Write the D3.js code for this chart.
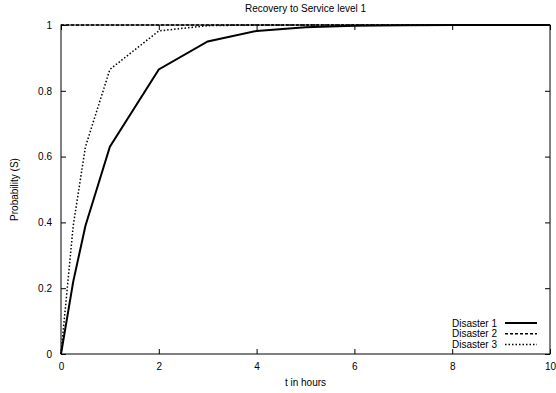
<!DOCTYPE html>
<html>
<head>
<meta charset="utf-8">
<script src="https://cdn.jsdelivr.net/npm/d3@7"></script>
<style>
  body { margin: 0; background: #fff; }
  text { font-family: "Liberation Sans", Arial, sans-serif; fill: #000; }
</style>
</head>
<body>
<div id="chart"></div>
<script>
// data
const hours = [0, 0.25, 0.5, 1, 2, 3, 4, 5, 6, 7, 8, 9, 10];
const disaster1 = [0, 0.22, 0.39, 0.63, 0.865, 0.95, 0.982, 0.993, 0.998, 0.999, 1, 1, 1];
const disaster2 = [1, 1, 1, 1, 1, 1, 1, 1, 1, 1, 1, 1, 1];
const disaster3 = [0, 0.39, 0.63, 0.865, 0.982, 0.998, 1, 1, 1, 1, 1, 1, 1];
const seriesNames = ["Disaster 1", "Disaster 2", "Disaster 3"];
const xTicks = [0, 2, 4, 6, 8, 10];
const yTicks = [0, 0.2, 0.4, 0.6, 0.8, 1];

const svgWidth = 556, svgHeight = 393;
const margin = { top: 25, right: 6, bottom: 39, left: 61 };
const width = svgWidth - margin.left - margin.right;
const height = svgHeight - margin.top - margin.bottom;

const svg = d3.select("#chart").append("svg")
  .attr("width", svgWidth)
  .attr("height", svgHeight);

const xScale = d3.scaleLinear().domain([0, 10]).range([0, width]);
const yScale = d3.scaleLinear().domain([0, 1]).range([height, 0]);

const g = svg.append("g")
  .attr("transform", "translate(" + margin.left + "," + margin.top + ")");

// axes, gnuplot style: ticks inward, mirrored
const fmt = d3.format("~g");
const styleAxis = sel => {
  sel.select(".domain").remove();
  sel.selectAll("line").attr("stroke", "#000");
  sel.selectAll("text").style("font-size", "10px").attr("fill", "#000");
};
g.append("g")
  .attr("transform", "translate(0," + height + ")")
  .call(d3.axisBottom(xScale).tickValues(xTicks).tickFormat(fmt).tickSizeInner(-5).tickSizeOuter(0).tickPadding(9))
  .call(styleAxis);
g.append("g")
  .call(d3.axisTop(xScale).tickValues(xTicks).tickSizeInner(-5).tickSizeOuter(0).tickFormat(""))
  .call(styleAxis);
g.append("g")
  .call(d3.axisLeft(yScale).tickValues(yTicks).tickFormat(fmt).tickSizeInner(-5).tickSizeOuter(0).tickPadding(9))
  .call(styleAxis);
g.append("g")
  .attr("transform", "translate(" + width + ",0)")
  .call(d3.axisRight(yScale).tickValues(yTicks).tickSizeInner(-5).tickSizeOuter(0).tickFormat(""))
  .call(styleAxis);

// frame
g.append("rect")
  .attr("width", width).attr("height", height)
  .attr("fill", "none").attr("stroke", "#000").attr("stroke-width", 1);

const line = d3.line()
  .x((d, i) => xScale(hours[i]))
  .y(d => yScale(d));

const styles = [
  { w: 2, dash: null },
  { w: 1.5, dash: "3,2" },
  { w: 1.5, dash: "1.5,2" }
];
[disaster1, disaster2, disaster3].forEach((s, k) => {
  g.append("path")
    .datum(s)
    .attr("fill", "none")
    .attr("stroke", "#000")
    .attr("stroke-width", styles[k].w)
    .attr("stroke-dasharray", styles[k].dash)
    .attr("d", line);
});

// legend
const legend = g.append("g").attr("transform", "translate(" + (width - 53) + "," + (height - 31) + ")");
seriesNames.forEach((name, k) => {
  const row = legend.append("g").attr("transform", "translate(0," + (k * 10.7) + ")");
  row.append("text").attr("x", 0).attr("y", 0).attr("dy", "0.35em")
    .attr("text-anchor", "end").style("font-size", "10px").text(name);
  row.append("line").attr("x1", 8).attr("x2", 40).attr("y1", 0).attr("y2", 0)
    .attr("stroke", "#000").attr("stroke-width", styles[k].w)
    .attr("stroke-dasharray", styles[k].dash);
});

// title and labels
svg.append("text").attr("x", margin.left + width / 2).attr("y", 12)
  .attr("text-anchor", "middle").style("font-size", "10px").text("Recovery to Service level 1");
svg.append("text").attr("x", margin.left + width / 2).attr("y", 386)
  .attr("text-anchor", "middle").style("font-size", "10px").text("t in hours");
svg.append("text")
  .attr("transform", "translate(18," + (margin.top + height / 2) + ") rotate(-90)")
  .attr("text-anchor", "middle").style("font-size", "10px").text("Probability (S)");
</script>
</body>
</html>
